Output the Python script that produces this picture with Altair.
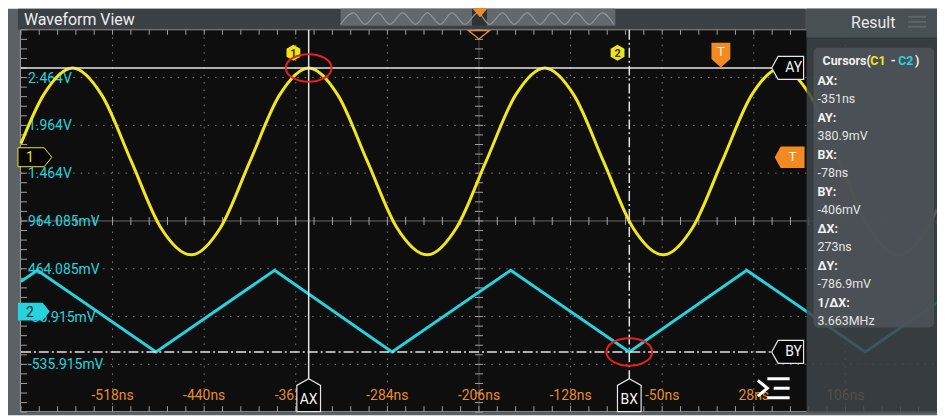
import altair as alt
import numpy as np
import pandas as pd

# ---------------- data ----------------
time_ticks = [-518, -440, -362, -284, -206, -128, -50, 28, 106]
time_labels = ["-518ns", "-440ns", "-362ns", "-284ns", "-206ns", "-128ns", "-50ns", "28ns", "106ns"]
volt_values = [2464.085, 1964.085, 1464.085, 964.085, 464.085, -35.915, -535.915]
volt_labels = ["2.464V", "1.964V", "1.464V", "964.085mV", "464.085mV", "-35.915mV", "-535.915mV"]

# channel 1 (yellow sine), time in ns, value in mV on the displayed grid
ch1_t = [-596, -577, -552, -527, -502, -477, -451, -426, -401, -376, -351, -326, -301, -276,
         -250, -225, -200, -175, -150, -125, -100, -75, -49, -24, 1, 26, 51, 76, 101, 126, 151, 176, 184]
ch1_v = [1773, 2278, 2565, 2278, 1587, 896, 610, 896, 1587, 2278, 2565, 2278, 1587, 896,
         610, 896, 1587, 2278, 2565, 2278, 1587, 896, 610, 896, 1587, 2278, 2565, 2278, 1587, 896, 610, 896, 1084]

# channel 2 (cyan triangle)
ch2_t = [-596, -582, -481, -380, -280, -179, -78, 22, 123, 184]
ch2_v = [330, 448, -406, 448, -406, 448, -406, 448, -406, 110]

# overview strip (memory overview) drawn in the title bar
overview_t = [-324, -313, -303, -292, -282, -271, -260, -250, -239, -229, -218, -207,
              -197, -186, -176, -165, -154, -144, -133, -123, -112, -101, -91]
overview_v = [3020, 3140, 3020, 3140, 3020, 3140, 3020, 3140, 3020, 3140, 3020, 3140,
              3020, 3140, 3020, 3140, 3020, 3140, 3020, 3140, 3020, 3140, 3020]

cursor_ax = -351
cursor_bx = -78
cursor_ay = 2565
cursor_by = -406
trigger_t = 0

result_labels = ["AX:", "AY:", "BX:", "BY:", "\u0394X:", "\u0394Y:", "1/\u0394X:"]
result_values = ["-351ns", "380.9mV", "-78ns", "-406mV", "273ns", "-786.9mV", "3.663MHz"]

# ---------------- layout helpers ----------------
T_MIN, T_MAX = -596, 184
V_MIN, V_MAX = -1035.915, 2964.085
OX, OY = 8, 8


def px(x):
    return x - OX


def py(y):
    return y - OY


XS = alt.Scale(domain=[T_MIN, T_MAX], range=[px(21), px(941)], nice=False, zero=False)
YS = alt.Scale(domain=[V_MIN, V_MAX], range=[py(413), py(29)], nice=False, zero=False)
one = alt.Data(values=[{"a": 1}])
FONT = "Roboto"

YELLOW = "#f2e61c"
CYAN = "#25d2de"
ORANGE = "#f28a22"
TIMECOL = "#e58c2d"


def X(field="t"):
    return alt.X(f"{field}:Q", scale=XS, axis=None)


def Y(field="v"):
    return alt.Y(f"{field}:Q", scale=YS, axis=None)


def box(x1, x2, y1, y2, color, opacity=1.0, radius=0):
    return alt.Chart(one).mark_rect(color=color, opacity=opacity, cornerRadius=radius).encode(
        x=alt.value(px(x1)), x2=alt.value(px(x2)), y=alt.value(py(y1)), y2=alt.value(py(y2)))


def label(x, y, text, color, size, align="left", weight="normal"):
    return alt.Chart(one).mark_text(text=text, color=color, fontSize=size, align=align,
                                    baseline="middle", fontWeight=weight, font=FONT).encode(
        x=alt.value(px(x)), y=alt.value(py(y)))


def seg(x1, y1, x2, y2, color, width=1.0, dash=None):
    kw = dict(color=color, strokeWidth=width)
    if dash:
        kw["strokeDash"] = dash
    return alt.Chart(one).mark_rule(**kw).encode(
        x=alt.value(px(x1)), y=alt.value(py(y1)), x2=alt.value(px(x2)), y2=alt.value(py(y2)))


def symbol(path, size, fill=None, stroke=None, sw=1.0):
    kw = dict(shape=path, size=size, opacity=1, strokeWidth=sw)
    if fill is not None:
        kw["filled"] = True
        kw["fill"] = fill
        kw["fillOpacity"] = 1
    else:
        kw["filled"] = False
    if stroke is not None:
        kw["stroke"] = stroke
        kw["strokeOpacity"] = 1
    else:
        kw["strokeWidth"] = 0
    return kw


PENT_LEFT = "M-1,0 L-0.6,-0.72 L1,-0.72 L1,0.72 L-0.6,0.72 Z"
PENT_RIGHT = "M1,0 L0.55,-0.56 L-1,-0.56 L-1,0.56 L0.55,0.56 Z"
PENT_UP = "M0,-1 L0.72,-0.6 L0.72,1 L-0.72,1 L-0.72,-0.6 Z"
PENT_DOWN = "M-0.76,-1 L0.76,-1 L0.76,0.3 L0,1 L-0.76,0.3 Z"
HEX = "M0,-1 L0.87,-0.5 L0.87,0.5 L0,1 L-0.87,0.5 L-0.87,-0.5 Z"
TRI_DOWN = "M-1,-0.4 L1,-0.4 L0,0.4 Z"
ELLIPSE = "M-1,0 A1,0.6,0,1,1,1,0 A1,0.6,0,1,1,-1,0 Z"
MENU = "M-1,-0.5 L-0.4,0 L-1,0.5 M-0.4,-0.6 L1,-0.6 M0,0 L1,0 M-0.4,0.6 L1,0.6"

layers = []

# ---------------- frame ----------------
layers.append(box(8, 941, 8, 416, "#5b6165"))
layers.append(box(18, 809, 8, 29, "#3a4044"))
layers.append(box(21, 941, 29, 413, "#0e0e0e"))
layers.append(label(24, 19, "Waveform View", "#eeeeee", 16))

# overview strip
layers.append(box(342, 618, 8, 25, "#62686c"))
layers.append(box(474, 489, 8, 25, "#2c3236"))
ov = pd.DataFrame({"t": overview_t, "v": overview_v})
layers.append(alt.Chart(ov).mark_line(color="#8e9498", strokeWidth=1.2, interpolate="monotone").encode(x=X(), y=Y()))
layers.append(alt.Chart(one).mark_point(**symbol("M-1,-0.6 L1,-0.6 L0,0.6 Z", 225, fill=ORANGE)).encode(
    x=alt.value(px(482)), y=alt.value(py(12))))

# ---------------- grid ----------------
grid_t = pd.DataFrame({"t": [t for t in time_ticks if t != -206]})
grid_v = pd.DataFrame({"v": [v for v in volt_values if v != 964.085]})
layers.append(alt.Chart(grid_t).mark_rule(color="#7c7c7c", strokeWidth=1, strokeDash=[1.5, 6]).encode(
    x=X(), y=alt.value(py(29)), y2=alt.value(py(413))))
layers.append(alt.Chart(grid_v).mark_rule(color="#7c7c7c", strokeWidth=1, strokeDash=[1.5, 6]).encode(
    y=Y(), x=alt.value(px(21)), x2=alt.value(px(941))))
layers.append(alt.Chart(pd.DataFrame({"v": [964.085]})).mark_rule(color="#6a6a6a", strokeWidth=1).encode(
    y=Y(), x=alt.value(px(21)), x2=alt.value(px(941))))
layers.append(alt.Chart(pd.DataFrame({"t": [-206]})).mark_rule(color="#4a4a4a", strokeWidth=1).encode(
    x=X(), y=alt.value(py(29)), y2=alt.value(py(413))))

minor_t = pd.DataFrame({"t": np.linspace(T_MIN, T_MAX, 51)})
minor_v = pd.DataFrame({"v": np.linspace(V_MIN, V_MAX, 41)})
TICK = "#a0a0a0"
layers.append(alt.Chart(minor_t).mark_rule(color=TICK, strokeWidth=1).encode(
    x=X(), y=alt.value(py(29)), y2=alt.value(py(34))))
layers.append(alt.Chart(minor_t).mark_rule(color=TICK, strokeWidth=1).encode(
    x=X(), y=alt.value(py(407)), y2=alt.value(py(413))))
layers.append(alt.Chart(minor_t).mark_rule(color=TICK, strokeWidth=1).encode(
    x=X(), y=alt.value(py(217)), y2=alt.value(py(225))))
layers.append(alt.Chart(minor_v).mark_rule(color=TICK, strokeWidth=1).encode(
    y=Y(), x=alt.value(px(21)), x2=alt.value(px(27))))
layers.append(alt.Chart(minor_v).mark_rule(color=TICK, strokeWidth=1).encode(
    y=Y(), x=alt.value(px(477)), x2=alt.value(px(485))))
layers.append(seg(21, 29, 941, 29, "#8a8a8a"))
layers.append(seg(21, 412.5, 941, 412.5, "#9a9a9a"))
layers.append(seg(20.5, 29, 20.5, 413, "#9a9a9a"))

# ---------------- axis labels ----------------
vl = pd.DataFrame({"v": volt_values, "lab": volt_labels})
layers.append(alt.Chart(vl).mark_text(color=CYAN, fontSize=14, align="left", baseline="middle", dy=1, font=FONT).encode(
    x=alt.value(px(28)), y=Y(), text="lab:N"))
tl = pd.DataFrame({"t": time_ticks, "lab": time_labels})
layers.append(alt.Chart(tl).mark_text(color=TIMECOL, fontSize=14, align="center", baseline="middle", font=FONT).encode(
    x=X(), y=alt.value(py(397)), text="lab:N"))

# ---------------- waveforms ----------------
c1 = pd.DataFrame({"t": ch1_t, "v": ch1_v})
c2 = pd.DataFrame({"t": ch2_t, "v": ch2_v})
layers.append(alt.Chart(c2).mark_line(color=CYAN, strokeWidth=3).encode(x=X(), y=Y()))
layers.append(alt.Chart(c1).mark_line(color=YELLOW, strokeWidth=3, interpolate="monotone").encode(x=X(), y=Y()))

# ---------------- cursors ----------------
CUR = "#e4e4e4"
DASHDOT = [10, 3, 2, 3]
layers.append(alt.Chart(pd.DataFrame({"t": [cursor_ax]})).mark_rule(color=CUR, strokeWidth=1.5).encode(
    x=X(), y=alt.value(py(29)), y2=alt.value(py(380))))
layers.append(alt.Chart(pd.DataFrame({"v": [cursor_ay]})).mark_rule(color=CUR, strokeWidth=1.5).encode(
    y=Y(), x=alt.value(px(21)), x2=alt.value(px(776))))
layers.append(alt.Chart(pd.DataFrame({"t": [cursor_bx]})).mark_rule(color=CUR, strokeWidth=1.5, strokeDash=DASHDOT).encode(
    x=X(), y=alt.value(py(29)), y2=alt.value(py(380))))
layers.append(alt.Chart(pd.DataFrame({"v": [cursor_by]})).mark_rule(color=CUR, strokeWidth=1.5, strokeDash=DASHDOT).encode(
    y=Y(), x=alt.value(px(21)), x2=alt.value(px(776))))

# cursor tags
for name, t in (("AX", cursor_ax), ("BX", cursor_bx)):
    d = pd.DataFrame({"t": [t]})
    layers.append(alt.Chart(d).mark_point(**symbol(PENT_UP, 1089, fill="#050505", stroke="#e8e8e8", sw=1.2)).encode(
        x=X(), y=alt.value(py(396))))
    layers.append(alt.Chart(d).mark_text(text=name, color="#f4f4f4", fontSize=14, align="center", baseline="middle", font=FONT).encode(
        x=X(), y=alt.value(py(401))))
for name, v in (("AY", cursor_ay), ("BY", cursor_by)):
    d = pd.DataFrame({"v": [v]})
    layers.append(alt.Chart(d).mark_point(**symbol(PENT_LEFT, 1024, fill="#050505", stroke="#e8e8e8", sw=1.2)).encode(
        x=alt.value(px(791)), y=Y()))
    layers.append(alt.Chart(d).mark_text(text=name, color="#f4f4f4", fontSize=14, align="center", baseline="middle", font=FONT).encode(
        x=alt.value(px(797)), y=Y()))

# cursor badges "1" and "2"
for name, t in (("1", cursor_ax - 13), ("2", cursor_bx - 10)):
    d = pd.DataFrame({"t": [t]})
    layers.append(alt.Chart(d).mark_point(**symbol(HEX, 256, fill="#efe41c")).encode(x=X(), y=alt.value(py(52))))
    layers.append(alt.Chart(d).mark_text(text=name, color="#3a3a10", fontSize=11, fontWeight="bold", align="center", baseline="middle", font=FONT).encode(
        x=X(), y=alt.value(py(53))))

# trigger markers
dT = pd.DataFrame({"t": [trigger_t]})
layers.append(alt.Chart(dT).mark_point(**symbol(PENT_DOWN, 625, fill=ORANGE)).encode(x=X(), y=alt.value(py(54.5))))
layers.append(alt.Chart(dT).mark_text(text="T", color="#fff4e8", fontSize=13, align="center", baseline="middle", font=FONT).encode(
    x=X(), y=alt.value(py(51))))
layers.append(alt.Chart(one).mark_point(**symbol(PENT_LEFT, 900, fill=ORANGE)).encode(x=alt.value(px(793)), y=alt.value(py(157))))
layers.append(label(796, 157, "T", "#fff4e8", 13, align="center"))
layers.append(alt.Chart(pd.DataFrame({"t": [-206]})).mark_point(**symbol(TRI_DOWN, 441, fill="#0e0e0e", stroke=ORANGE, sw=1.3)).encode(
    x=X(), y=alt.value(py(34))))

# channel markers
layers.append(alt.Chart(one).mark_point(**symbol(PENT_RIGHT, 1156, fill="#050505", stroke=YELLOW, sw=1)).encode(
    x=alt.value(px(35)), y=alt.value(py(157))))
layers.append(label(30, 158, "1", YELLOW, 14, align="center"))
layers.append(alt.Chart(one).mark_point(**symbol(PENT_RIGHT, 1024, fill=CYAN)).encode(
    x=alt.value(px(34)), y=alt.value(py(312))))
layers.append(label(30, 313, "2", "#1b2226", 14, align="center"))

# menu icon
layers.append(alt.Chart(one).mark_point(**symbol(MENU, 1024, stroke="#ffffff", sw=3)).encode(
    x=alt.value(px(777)), y=alt.value(py(389))))

# ---------------- result panel ----------------
layers.append(box(810, 941, 8, 413, "#3d4448", opacity=0.86))
layers.append(box(810, 941, 8, 37, "#495054"))
layers.append(seg(810, 37.5, 941, 37.5, "#2e3437"))
layers.append(label(877, 22, "Result", "#e8e8e8", 16, align="center"))
for yy in (16, 21, 26):
    layers.append(seg(912, yy, 930, yy, "#5d6569", width=2))
layers.append(box(817, 938, 47, 328, "#4c5357", opacity=0.92, radius=5))

layers.append(label(826, 60, "Cursors(", "#f0f0f0", 12.5, weight="bold"))
layers.append(label(874, 60, "C1", YELLOW, 12.5, weight="bold"))
layers.append(label(897, 60, "-", "#f0f0f0", 12.5, align="center", weight="bold"))
layers.append(label(902, 60, "C2", CYAN, 12.5, weight="bold"))
layers.append(label(919, 60, ")", "#f0f0f0", 12.5, weight="bold"))
for i, (lab, val) in enumerate(zip(result_labels, result_values)):
    y0 = 80.5 + i * 37.1
    layers.append(label(821, y0, lab, "#f2f2f2", 12.5, weight="bold"))
    layers.append(label(821, y0 + 18.5, val, "#e4e4e4", 12.5))

# ---------------- highlight ellipses ----------------
layers.append(alt.Chart(pd.DataFrame({"t": [cursor_ax], "v": [cursor_ay]})).mark_point(
    **symbol(ELLIPSE, 2116, stroke="#e4211d", sw=2)).encode(x=X(), y=Y()))
layers.append(alt.Chart(pd.DataFrame({"t": [cursor_bx], "v": [cursor_by]})).mark_point(
    **symbol(ELLIPSE, 2116, stroke="#e4211d", sw=2)).encode(x=X(), y=Y()))

chart = alt.layer(*layers).properties(
    width=933, height=408, autosize=alt.AutoSizeParams(type="none"), padding=0, background="white"
).configure_view(stroke=None)

chart.save("out.html", embed_options={"renderer": "svg", "actions": False})
